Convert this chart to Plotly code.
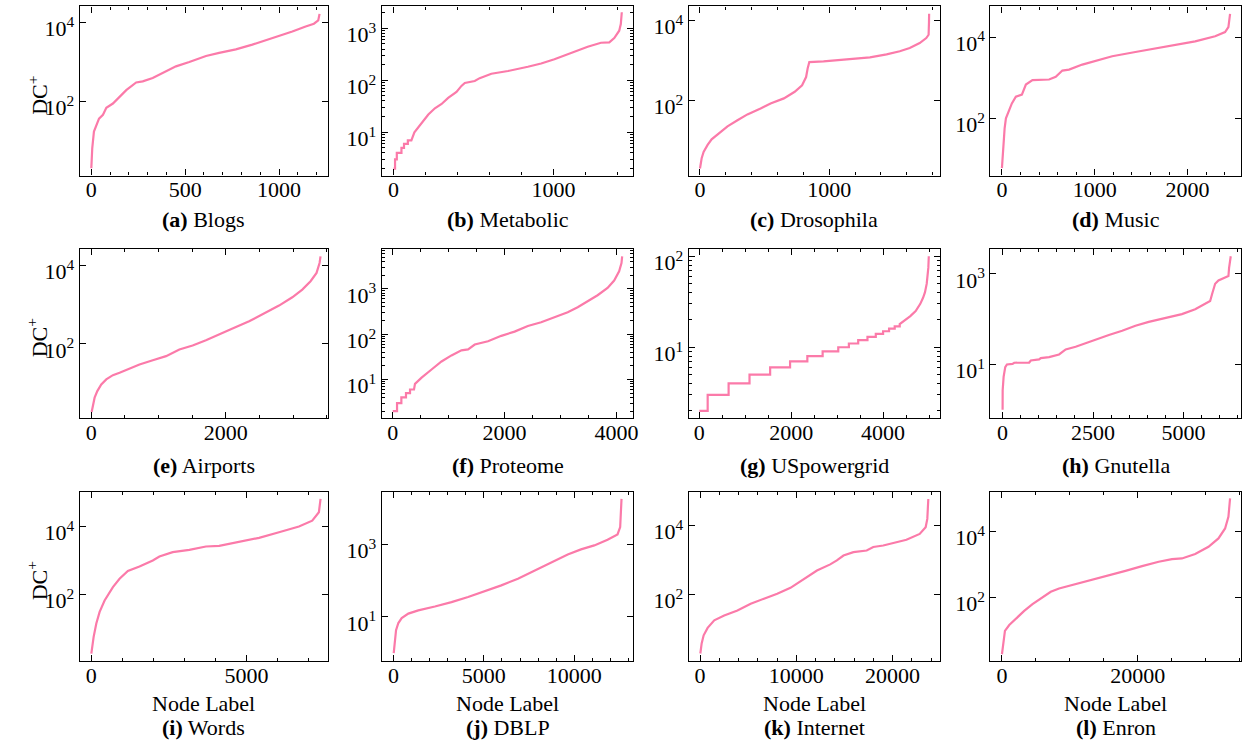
import plotly.graph_objects as go

W, H = 1253, 746
FONT = "Liberation Serif"
FS = 22
LINE_COLOR = "#fb7aa9"

# ---------------- data ----------------
letters = ["a", "b", "c", "d", "e", "f", "g", "h", "i", "j", "k", "l"]
names = ["Blogs", "Metabolic", "Drosophila", "Music", "Airports", "Proteome",
         "USpowergrid", "Gnutella", "Words", "DBLP", "Internet", "Enron"]

blogs_x = [0, 5, 14, 27, 41, 62, 80, 115, 150, 186, 239, 274, 327, 381, 451, 522,
           611, 681, 770, 858, 929, 1000, 1071, 1142, 1186, 1209, 1216]
blogs_y = [2.0, 6.5, 17, 25, 36, 45, 68, 87, 129, 190, 297, 316, 386, 527, 760, 980,
           1390, 1660, 2040, 2690, 3460, 4460, 5770, 7780, 9100, 11000, 16200]

metabolic_x = [0, 10, 10, 21, 21, 50, 50, 66, 66, 90, 90, 112,
               131, 176, 218, 259, 301, 342, 394, 425, 446, 508, 539, 612, 716, 840,
               923, 1006, 1110, 1214, 1297, 1349, 1380, 1411, 1421, 1427]
metabolic_y = [2, 2, 3, 3, 4, 4, 5, 5, 6, 6, 7, 7,
               10, 15, 22, 29, 35, 46, 60, 78, 89, 97, 110, 134, 151, 182,
               210, 254, 333, 442, 528, 536, 650, 900, 1210, 2040]

drosophila_x = [0, 13, 28, 59, 90, 149, 213, 290, 367, 469, 546, 649, 733, 790, 821,
                833, 846, 956, 1162, 1315, 1444, 1546, 1623, 1700, 1751, 1769, 1772, 1773]
drosophila_y = [2, 3.6, 5.2, 7.8, 10.7, 15.4, 22.7, 32, 45, 63, 84, 113, 165, 241, 386,
                630, 915, 950, 1070, 1200, 1420, 1700, 2050, 2730, 3630, 4400, 9100, 14700]

music_x = [0, 14, 29, 43, 72, 107, 150, 215, 258, 329, 508, 580, 651, 723, 866, 1009,
           1188, 1438, 1796, 2082, 2297, 2404, 2440, 2458]
music_y = [6, 27, 57, 100, 146, 233, 340, 385, 677, 870, 904, 1050, 1500, 1580, 2100,
           2570, 3370, 4290, 5910, 7830, 10400, 13200, 17600, 37000]

airports_x = [5, 25, 49, 89, 148, 222, 321, 420, 568, 716, 914, 1111, 1309, 1506, 1704,
              1901, 2099, 2346, 2593, 2790, 2988, 3136, 3259, 3348, 3393, 3407]
airports_y = [1.8, 2.6, 4.2, 6.2, 9.1, 12.3, 15.8, 18.2, 23.5, 29.6, 38, 48.5, 72, 91,
              124, 172, 246, 378, 620, 950, 1550, 2440, 3980, 6500, 11700, 17300]

proteome_x = [0, 77, 77, 154, 154, 237, 237, 309, 309, 380,
              398, 516, 694, 872, 1050, 1228, 1347, 1466, 1703, 1941, 2178, 2415, 2653,
              2890, 3128, 3306, 3484, 3662, 3840, 3958, 4047, 4089, 4101]
proteome_y = [2, 2, 3, 3, 4, 4, 5, 5, 6, 6,
              8, 11, 16.6, 25, 34, 44, 46, 59, 70, 92, 114, 152, 184,
              237, 306, 394, 535, 725, 1050, 1530, 2450, 3740, 5260]

# USpowergrid: integer plateaus (value, node label where it starts) + smooth tail
powergrid_levels = [2, 3, 4, 5, 6, 7, 8, 9, 10, 11, 12, 13, 14, 15, 16, 17]
powergrid_starts = [0, 181, 637, 1092, 1541, 1975, 2351, 2684, 3024, 3255, 3458, 3660,
                    3841, 4000, 4130, 4253]
powergrid_tail_x = [4362, 4430, 4492, 4593, 4709, 4810, 4870, 4911, 4950, 4969, 4985, 4995]
powergrid_tail_y = [18, 19, 20, 22, 25, 30, 35, 40, 50, 60, 75, 100]

gnutella_x = [0, 2, 28, 73, 120, 275, 321, 734, 780, 1009, 1055, 1284, 1560, 1743, 2018,
              2294, 2569, 2936, 3303, 3670, 4037, 4495, 4954, 5321, 5596, 5734, 5798,
              5872, 5963, 6147, 6239, 6257, 6303]
gnutella_y = [1, 2.7, 5.3, 8.7, 10, 10.3, 10.9, 11, 12.2, 12.9, 13.8, 14.5, 16.6, 21.4,
              24.6, 29.4, 36.5, 44.7, 55.5, 71.5, 87, 105, 129, 165, 213, 252, 383, 604,
              714, 818, 890, 1350, 2440]

words_x = [0, 75, 161, 268, 428, 535, 696, 910, 1178, 1552, 1981, 2195, 2623, 3158, 3694,
           4122, 4764, 5407, 6049, 6692, 7120, 7334, 7388]
words_y = [1.9, 5.9, 14.5, 31.7, 68, 95, 167, 293, 492, 670, 1000, 1310, 1750, 2050, 2560,
           2680, 3420, 4580, 6690, 9800, 14600, 25600, 62700]

dblp_x = [18, 92, 147, 275, 459, 826, 1376, 2294, 3211, 4128, 5046, 5963, 6881, 7798,
          8716, 9633, 10367, 11101, 11835, 12385, 12532, 12569, 12606]
dblp_y = [1, 2.2, 4.3, 6.8, 9.3, 12.4, 15.2, 19.5, 25.7, 35.6, 51.3, 75, 115, 195, 332,
          540, 744, 960, 1370, 1930, 3080, 7200, 18700]

internet_x = [34, 172, 379, 792, 1480, 2513, 3890, 5267, 6644, 8021, 9398, 10775, 12151,
              13528, 14217, 14905, 15938, 17315, 18003, 19036, 20069, 21446, 22823, 23442,
              23614, 23718]
internet_y = [2, 3.9, 6.7, 11, 18.2, 25, 35, 55, 77, 107, 158, 288, 500, 755, 980, 1360,
              1700, 1900, 2400, 2650, 3100, 3880, 5750, 8950, 15600, 58700]

enron_x = [0, 196, 440, 1076, 2054, 3276, 4499, 5721, 7188, 8411, 10856, 13301, 15746,
           18191, 20636, 23081, 25037, 26504, 28460, 30416, 31883, 32861, 33350, 33594]
enron_y = [1.95, 5.1, 9.9, 14.8, 23.5, 39.6, 63, 94, 149, 187, 252, 355, 471, 634, 878,
           1190, 1430, 1500, 2040, 3370, 6010, 12000, 27000, 96000]

# x tick labels and y decade exponents shown per panel
xtick_vals = [[0, 500, 1000], [0, 1000], [0, 1000], [0, 1000, 2000],
              [0, 2000], [0, 2000, 4000], [0, 2000, 4000], [0, 2500, 5000],
              [0, 5000], [0, 5000, 10000], [0, 10000, 20000], [0, 20000]]
ytick_exps = [[2, 4], [1, 2, 3], [2, 4], [2, 4],
              [2, 4], [1, 2, 3], [1, 2], [1, 3],
              [2, 4], [1, 3], [2, 4], [2, 4]]

# ---------------- build step series for USpowergrid ----------------
pg_x, pg_y = [], []
ends = powergrid_starts[1:] + [powergrid_tail_x[0]]
for lv, s, e in zip(powergrid_levels, powergrid_starts, ends):
    pg_x += [s, e]
    pg_y += [lv, lv]
pg_x += powergrid_tail_x
pg_y += powergrid_tail_y

series = [(blogs_x, blogs_y), (metabolic_x, metabolic_y), (drosophila_x, drosophila_y),
          (music_x, music_y), (airports_x, airports_y), (proteome_x, proteome_y),
          (pg_x, pg_y), (gnutella_x, gnutella_y), (words_x, words_y),
          (dblp_x, dblp_y), (internet_x, internet_y), (enron_x, enron_y)]

# ---------------- layout spec ----------------
col_px = [(80, 329.5), (383.3, 636), (691.5, 944), (994.3, 1246)]
row_px = [(4.5, 174), (247.3, 417.5), (491, 661)]
xranges = [(-62, 1262), (-73, 1500), (-87, 1859), (-125, 2576),
           (-173, 3521), (-196, 4303), (-231, 5244), (-339, 6587),
           (-375, 7634), (-642, 13266), (-1170, 24957), (-1711, 35208)]
yranges = [(0.117, 4.396), (0.168, 3.42), (0.125, 4.35), (0.596, 4.75),
           (0.094, 4.434), (0.14, 3.89), (0.218, 2.084), (-0.19, 3.555),
           (0.058, 5.01), (-0.226, 4.47), (0.077, 4.98), (0.08, 5.186)]
xminor = [100, 200, 200, 200, 500, 500, 500, 500, 1000, 1000, 2000, 5000]
ylogminor = [False, True, False, False, False, True, True, False,
             False, False, False, False]

fig = go.Figure()
layout = dict(width=W, height=H, margin=dict(l=0, r=0, t=0, b=0),
              paper_bgcolor="white", plot_bgcolor="white", showlegend=False,
              font=dict(family=FONT, size=FS, color="black"))
annotations = []
tickfont = dict(family=FONT, size=FS, color="black")

for i, (xs, ys) in enumerate(series):
    r, c = divmod(i, 4)
    k = i + 1
    xa = "x" if k == 1 else f"x{k}"
    ya = "y" if k == 1 else f"y{k}"
    fig.add_trace(go.Scatter(x=xs, y=ys, mode="lines", xaxis=xa, yaxis=ya,
                             line=dict(color=LINE_COLOR, width=2.2)))
    x0, x1 = col_px[c]
    y0, y1 = row_px[r]
    xdom = [x0 / W, x1 / W]
    ydom = [1 - y1 / H, 1 - y0 / H]
    common = dict(showgrid=False, zeroline=False, showline=True, linecolor="black",
                  linewidth=1.2, mirror="ticks", ticks="inside", ticklen=6,
                  tickwidth=1.1, tickcolor="black", tickfont=tickfont)
    layout[f"xaxis{'' if k == 1 else k}"] = dict(
        domain=xdom, anchor=ya, range=list(xranges[i]),
        tickmode="array", tickvals=xtick_vals[i],
        ticktext=[str(v) for v in xtick_vals[i]], ticklabelstandoff=-6,
        minor=dict(ticks="inside", dtick=xminor[i], tick0=0, ticklen=3.5,
                   tickwidth=1, tickcolor="black", showgrid=False),
        **common)
    yvals = [10 ** e for e in ytick_exps[i]]
    ytext = [f"10<sup>{e}</sup>" for e in ytick_exps[i]]
    yax = dict(domain=ydom, anchor=xa, type="log", range=list(yranges[i]),
               tickmode="array", tickvals=yvals, ticktext=ytext,
               ticklabelshift=6, **common)
    if ylogminor[i]:
        mv = [m * 10 ** d for d in range(-1, 6) for m in range(2, 10)]
        yax["minor"] = dict(ticks="inside", tickmode="array", tickvals=mv,
                            ticklen=3.5, tickwidth=1, tickcolor="black", showgrid=False)
    layout[f"yaxis{'' if k == 1 else k}"] = yax

    # caption under each panel
    cx = (x0 + x1) / 2 / W
    cap_y = {0: 218, 1: 465, 2: 727}[r]
    annotations.append(dict(text=f"<b>({letters[i]})</b> {names[i]}", x=cx,
                            y=1 - cap_y / H, xref="paper", yref="paper",
                            showarrow=False, xanchor="center", yanchor="middle",
                            font=dict(family=FONT, size=FS, color="black")))
    if r == 2:
        annotations.append(dict(text="Node Label", x=cx, y=1 - 703 / H,
                                xref="paper", yref="paper", showarrow=False,
                                xanchor="center", yanchor="middle",
                                font=dict(family=FONT, size=FS, color="black")))
    if c == 0:
        annotations.append(dict(text="DC<sup>+</sup>", x=38 / W,
                                y=1 - ((y0 + y1) / 2 + 4) / H,
                                xref="paper", yref="paper", showarrow=False,
                                textangle=-90, xanchor="center", yanchor="middle",
                                font=dict(family=FONT, size=FS, color="black")))

layout["annotations"] = annotations
fig.update_layout(**layout)
fig.write_html("out.html", config={"displayModeBar": False},
               post_script="document.body.style.margin='0';document.body.style.padding='0';")
